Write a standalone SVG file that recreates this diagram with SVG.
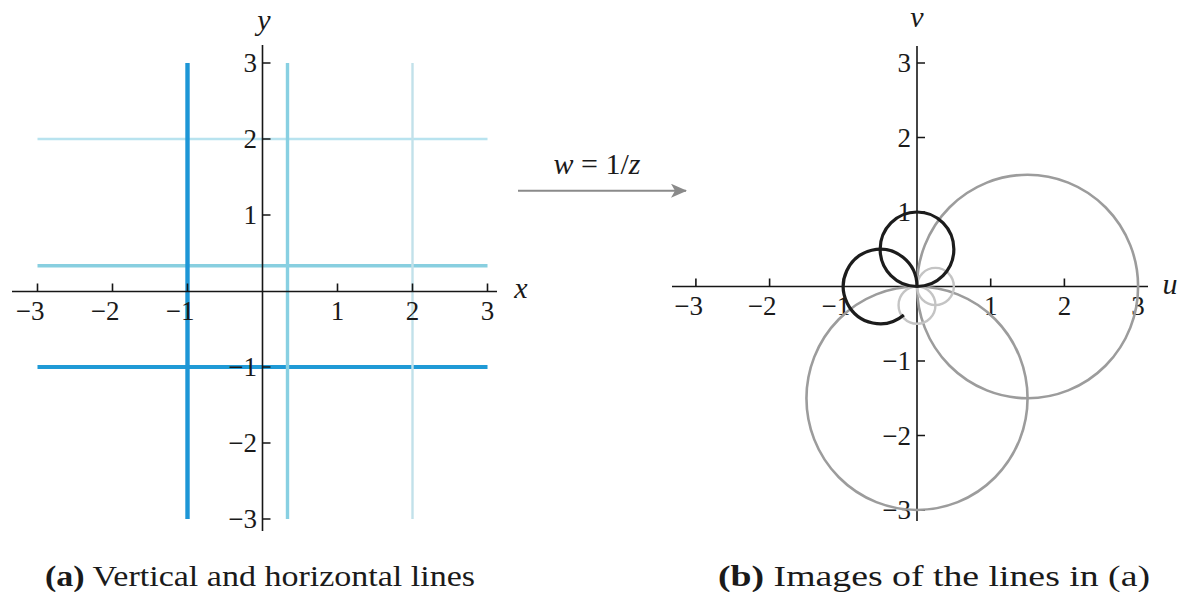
<svg xmlns="http://www.w3.org/2000/svg" width="1185" height="592" viewBox="0 0 1185 592">
<style>
.ax{stroke:#161616;stroke-width:1.6;fill:none}
.tk{font-family:"Liberation Serif",serif;font-size:27px;fill:#1a1a1a}
.lab{font-family:"Liberation Serif",serif;font-size:30px;font-style:italic;fill:#1a1a1a}
.cap{font-family:"Liberation Serif",serif;font-size:30px;fill:#1a1a1a}
.blk{stroke:#1c1c1c;stroke-width:3.2;fill:none}
.gry{stroke:#9c9c9c;stroke-width:2.6;fill:none}
.lgt{stroke:#c4c4c4;stroke-width:2.4;fill:none}
</style>
<defs>
<marker id="ah" markerWidth="16" markerHeight="14" refX="15" refY="7" orient="auto" markerUnits="userSpaceOnUse">
<path d="M0,0 L16,7 L0,14 L4,7 Z" fill="#8a8a8a"/>
</marker>
</defs>
<rect width="1185" height="592" fill="#ffffff"/>

<g id="panel-a">
  <g id="lines-a">
    <line x1="37.5" y1="139" x2="487.5" y2="139" stroke="#b8e3ef" stroke-width="2.6"/>
    <line x1="37.5" y1="265.7" x2="487.5" y2="265.7" stroke="#88cfe0" stroke-width="3.4"/>
    <line x1="37.5" y1="367" x2="487.5" y2="367" stroke="#1f9ad6" stroke-width="4"/>
    <line x1="187.5" y1="63" x2="187.5" y2="519" stroke="#1d96d6" stroke-width="4.4"/>
    <line x1="287.5" y1="63" x2="287.5" y2="519" stroke="#88d0e2" stroke-width="3.4"/>
    <line x1="412.5" y1="63" x2="412.5" y2="519" stroke="#c2e1ea" stroke-width="2.4"/>
  </g>
  <g id="axes-a">
    <line class="ax" x1="12" y1="291.5" x2="497" y2="291.5"/>
    <line class="ax" x1="262.5" y1="45" x2="262.5" y2="531"/>
    <path class="ax" d="M37.5 291.5V283.5 M112.5 291.5V283.5 M187.5 291.5V283.5 M337.5 291.5V283.5 M412.5 291.5V283.5 M487.5 291.5V283.5"/>
    <path class="ax" d="M262.5 63H270.5 M262.5 139H270.5 M262.5 215H270.5 M262.5 367H270.5 M262.5 443H270.5 M262.5 519H270.5"/>
    <text class="tk" x="44.5" y="320" text-anchor="end">−3</text>
    <text class="tk" x="119.5" y="320" text-anchor="end">−2</text>
    <text class="tk" x="194.5" y="320" text-anchor="end">−1</text>
    <text class="tk" x="337.5" y="320" text-anchor="middle">1</text>
    <text class="tk" x="412.5" y="320" text-anchor="middle">2</text>
    <text class="tk" x="487.5" y="320" text-anchor="middle">3</text>
    <text class="tk" x="257" y="72" text-anchor="end">3</text>
    <text class="tk" x="257" y="148" text-anchor="end">2</text>
    <text class="tk" x="257" y="224" text-anchor="end">1</text>
    <text class="tk" x="257" y="376" text-anchor="end">−1</text>
    <text class="tk" x="257" y="452" text-anchor="end">−2</text>
    <text class="tk" x="257" y="528" text-anchor="end">−3</text>
    <text class="lab" x="264" y="30" text-anchor="middle">y</text>
    <text class="lab" x="521" y="298" text-anchor="middle">x</text>
  </g>
  <text class="cap" x="45" y="586" textLength="430" lengthAdjust="spacingAndGlyphs"><tspan font-weight="bold">(a)</tspan> Vertical and horizontal lines</text>
</g>

<g id="connectors">
  <line x1="518" y1="190.7" x2="686" y2="190.7" stroke="#8a8a8a" stroke-width="2" marker-end="url(#ah)"/>
  <text x="597" y="174" text-anchor="middle" font-family="Liberation Serif, serif" font-size="30" fill="#1a1a1a"><tspan font-style="italic">w</tspan> = 1/<tspan font-style="italic">z</tspan></text>
</g>

<g id="panel-b">
  <g id="axes-b">
    <line class="ax" x1="672" y1="286.5" x2="1148" y2="286.5"/>
    <line class="ax" x1="917" y1="46" x2="917" y2="521"/>
    <path class="ax" d="M695.9 286.5V278.5 M769.6 286.5V278.5 M843.3 286.5V278.5 M990.7 286.5V278.5 M1064.4 286.5V278.5 M1138.1 286.5V278.5"/>
    <path class="ax" d="M917 63H925 M917 137.5H925 M917 212H925 M917 361H925 M917 435.5H925 M917 510H925"/>
    <text class="tk" x="702.9" y="315" text-anchor="end">−3</text>
    <text class="tk" x="776.6" y="315" text-anchor="end">−2</text>
    <text class="tk" x="850.3" y="315" text-anchor="end">−1</text>
    <text class="tk" x="990.7" y="315" text-anchor="middle">1</text>
    <text class="tk" x="1064.4" y="315" text-anchor="middle">2</text>
    <text class="tk" x="1138.1" y="315" text-anchor="middle">3</text>
    <text class="tk" x="911" y="72" text-anchor="end">3</text>
    <text class="tk" x="911" y="146.5" text-anchor="end">2</text>
    <text class="tk" x="911" y="221" text-anchor="end">1</text>
    <text class="tk" x="911" y="370" text-anchor="end">−1</text>
    <text class="tk" x="911" y="444.5" text-anchor="end">−2</text>
    <text class="tk" x="911" y="519" text-anchor="end">−3</text>
    <text class="lab" x="917" y="27" text-anchor="middle">v</text>
    <text class="lab" x="1170" y="294" text-anchor="middle">u</text>
  </g>
  <g id="images-b">
    <ellipse class="gry" cx="1027.55" cy="286.5" rx="110.55" ry="111.75"/>
    <ellipse class="gry" cx="917" cy="398.25" rx="110.55" ry="111.75"/>
    <ellipse class="lgt" cx="935.43" cy="286.5" rx="18.43" ry="18.63"/>
    <ellipse class="lgt" cx="917" cy="305.13" rx="18.43" ry="18.63"/>
    <ellipse class="blk" cx="917" cy="249.25" rx="36.85" ry="37.25"/>
    <path class="blk" d="M917 286.5 A36.85 37.25 0 1 0 903.84 315.04"/>
  </g>
  <text class="cap" x="718" y="586" textLength="432" lengthAdjust="spacingAndGlyphs"><tspan font-weight="bold">(b)</tspan> Images of the lines in (a)</text>
</g>
</svg>
